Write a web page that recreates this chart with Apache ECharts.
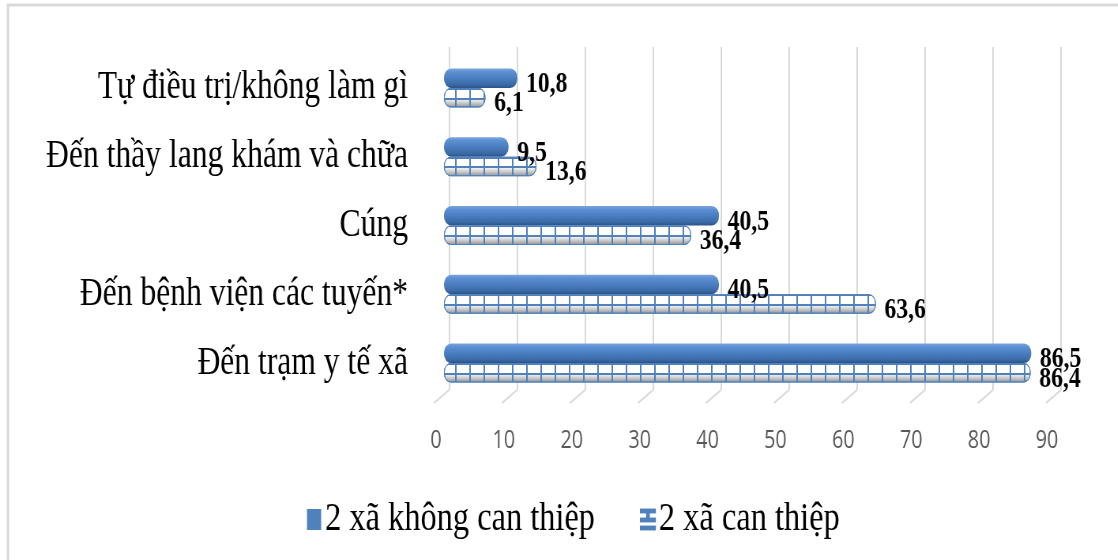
<!DOCTYPE html>
<html><head><meta charset="utf-8">
<script src="https://cdn.jsdelivr.net/npm/echarts@6/dist/echarts.min.js"></script>
<style>
html,body{margin:0;padding:0;background:#fff;overflow:hidden;width:1118px;height:560px}
#c{width:1416px;height:560px;transform:scaleX(0.79);transform-origin:0 0}
</style></head><body><div id="c"></div>
<script>
// ---- data ----
const categories = ['Đến trạm y tế xã', 'Đến bệnh viện các tuyến*', 'Cúng', 'Đến thầy lang khám và chữa', 'Tự điều trị/không làm gì'];
const seriesNames = ['2 xã không can thiệp', '2 xã can thiệp'];
const noInterventionValues = [86.5, 40.5, 40.5, 9.5, 10.8];
const interventionValues = [86.4, 63.6, 36.4, 13.6, 6.1];
const tickValues = [0, 10, 20, 30, 40, 50, 60, 70, 80, 90];

// ---- layout helpers (screen px -> layout px, container is squeezed horizontally) ----
const S = 0.79;
const X = v => v / S;
const BLUE = '#4f81bd';
const GRID = '#d9d9d9';

const fmt = p => String(p.value).replace('.', ',');
const valueLabel = {
  show: true, position: 'right', distance: 11, offset: [0, 6],
  fontFamily: 'Liberation Serif', fontWeight: 'bold', fontSize: 30, color: '#000',
  formatter: fmt
};

const chart = echarts.init(document.getElementById('c'), null, {renderer: 'canvas'});
chart.setOption({
  backgroundColor: '#fff',
  animation: false,
  graphic: [{
    type: 'rect', silent: true,
    shape: {x: X(8), y: 5, width: 3000, height: 1000},
    style: {fill: 'none', stroke: GRID, lineWidth: 3}
  }],
  legend: {
    left: X(303), top: 494, itemGap: 57,
    itemWidth: 18, itemHeight: 21,
    textStyle: {fontFamily: 'Liberation Serif', fontSize: 41, color: '#000'},
    data: [
      {name: seriesNames[0], icon: 'rect', itemStyle: {color: BLUE}},
      {name: seriesNames[1], icon: 'path://M0,0H12V1.6H0Z M5.2,0H6.8V7H5.2Z M0,6H12V7.6H0Z M0,11.4H12V13H0Z', itemStyle: {color: BLUE}}
    ]
  },
  grid: [
    {left: X(449), width: X(612), top: 47, height: 343},
    {left: X(444), width: X(611), top: 53.6, height: 343.8},
    {left: X(436), width: X(611), top: 403, height: 1}
  ],
  xAxis: [
    {gridIndex: 0, type: 'value', min: 0, max: 90, interval: 10,
      axisLine: {show: false}, axisTick: {show: false}, axisLabel: {show: false},
      splitLine: {show: true, lineStyle: {color: GRID, width: 2}}},
    {gridIndex: 1, type: 'value', min: 0, max: 90, interval: 10, show: false},
    {gridIndex: 2, type: 'value', min: 0, max: 90, interval: 10,
      axisLine: {show: false}, axisTick: {show: false}, splitLine: {show: false},
      axisLabel: {margin: 24, fontFamily: 'Open Sans', fontSize: 25, color: '#595959'}}
  ],
  yAxis: [
    {gridIndex: 0, type: 'value', min: 0, max: 1, show: false},
    {gridIndex: 1, type: 'category', data: categories,
      axisLine: {show: false}, axisTick: {show: false}, splitLine: {show: false},
      axisLabel: {margin: X(36), fontFamily: 'Liberation Serif', fontSize: 40, color: '#000', padding: [12, 0, 0, 0]}},
    {gridIndex: 2, type: 'value', min: 0, max: 1, show: false}
  ],
  series: [
    {
      type: 'custom', xAxisIndex: 0, yAxisIndex: 0, silent: true,
      data: tickValues,
      renderItem: (params, api) => {
        const p = api.coord([api.value(0), 0]);
        return {type: 'line', shape: {x1: p[0], y1: p[1], x2: p[0] - X(15), y2: p[1] + 13},
          style: {stroke: GRID, lineWidth: 2}};
      }
    },
    {
      name: seriesNames[0], type: 'bar', xAxisIndex: 1, yAxisIndex: 1,
      data: noInterventionValues, barWidth: 19.5, barGap: '0%',
      itemStyle: {
        borderRadius: [9, 9, 9, 9],
        color: {type: 'linear', x: 0, y: 0, x2: 0, y2: 1, colorStops: [
          {offset: 0, color: '#7ba6de'}, {offset: 0.18, color: '#5b8fd3'},
          {offset: 0.5, color: '#4a7ec0'}, {offset: 0.82, color: '#3b6ba7'},
          {offset: 1, color: '#2b5288'}]}
      },
      label: valueLabel
    },
    {
      name: seriesNames[1], type: 'bar', xAxisIndex: 1, yAxisIndex: 1,
      data: interventionValues, barWidth: 19.5, barGap: '0%',
      itemStyle: {
        borderRadius: [8, 8, 8, 8], borderColor: BLUE, borderWidth: 1,
        color: {type: 'linear', x: 0, y: 0, x2: 0, y2: 1, colorStops: [
          {offset: 0, color: BLUE}, {offset: 0.1, color: BLUE},
          {offset: 0.1, color: '#ffffff'}, {offset: 0.5, color: '#ffffff'},
          {offset: 0.5, color: BLUE}, {offset: 0.6, color: BLUE},
          {offset: 0.6, color: '#eeeeee'}, {offset: 0.75, color: '#cfcfcf'},
          {offset: 0.9, color: '#a9a9a9'}, {offset: 1, color: '#8e8e8e'}]},
        decal: {symbol: 'rect', symbolSize: 1, color: BLUE, dashArrayX: [2, 16], dashArrayY: [10, 0]}
      },
      label: valueLabel
    }
  ]
});
</script></body></html>
